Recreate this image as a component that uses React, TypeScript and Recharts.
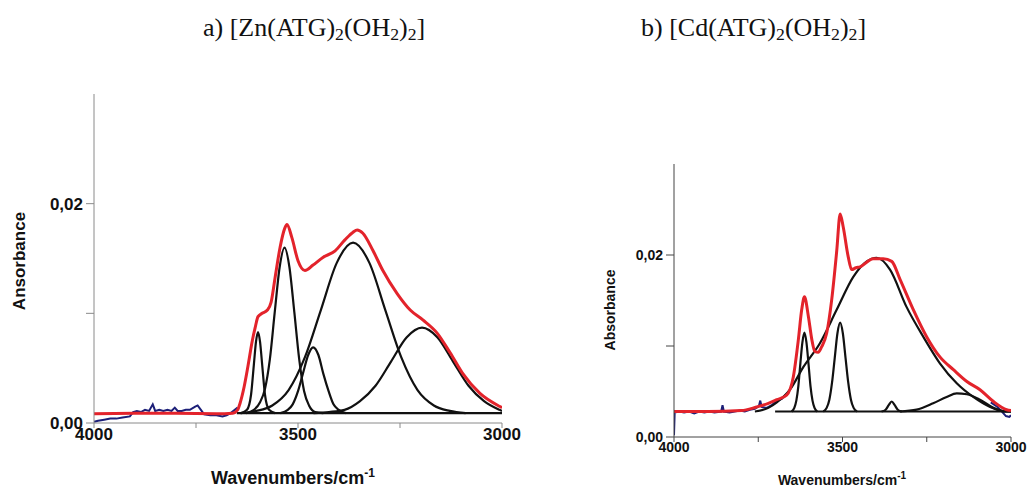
import React from 'react';
import { LineChart, Line, XAxis, YAxis } from 'recharts';

// [wavenumber, absorbance] pairs

// panel a — [Zn(ATG)2(OH2)2]
const aMeasured: [number, number][] = [
  [4000, 0.0001], [3990, 0.0002], [3975, 0.0003], [3960, 0.0004], [3945, 0.0004],
  [3930, 0.0005], [3912, 0.0006], [3904, 0.001], [3895, 0.0011], [3885, 0.001],
  [3875, 0.0012], [3865, 0.0011], [3856, 0.0017], [3850, 0.0011], [3840, 0.0012],
  [3830, 0.0011], [3820, 0.0012], [3810, 0.0011], [3802, 0.0014], [3795, 0.0011],
  [3785, 0.0011], [3775, 0.0012], [3765, 0.0012], [3752, 0.0015], [3746, 0.0016],
  [3738, 0.0012], [3730, 0.0008], [3715, 0.0007], [3700, 0.0007], [3685, 0.0006],
  [3675, 0.0007], [3665, 0.0009], [3655, 0.0012], [3648, 0.0014],
];
const aFit: [number, number][] = [
  [4000, 0.00085], [3900, 0.00088], [3800, 0.00088], [3700, 0.00085], [3660, 0.0009],
  [3648, 0.0012], [3642, 0.0018], [3632, 0.0033], [3623, 0.0051], [3612, 0.0075],
  [3605, 0.0087], [3598, 0.0097], [3588, 0.01], [3575, 0.0103], [3566, 0.011],
  [3556, 0.0133], [3544, 0.016], [3533, 0.0177], [3527, 0.0181], [3515, 0.0169],
  [3500, 0.0148], [3483, 0.0139], [3463, 0.0144], [3439, 0.0151], [3409, 0.0157],
  [3385, 0.0167], [3365, 0.0174], [3355, 0.0176], [3341, 0.0173], [3316, 0.0157],
  [3292, 0.0139], [3257, 0.0118], [3225, 0.0103], [3194, 0.0094], [3159, 0.0082],
  [3127, 0.0064], [3096, 0.0045], [3054, 0.0027], [3005, 0.0015], [3000, 0.0014],
];
const aBand1: [number, number][] = [
  [3640, 0.0009], [3625, 0.0012], [3615, 0.0026], [3608, 0.0054], [3603, 0.0074],
  [3598, 0.0083], [3593, 0.0074], [3588, 0.0054], [3581, 0.0026], [3571, 0.0012], [3556, 0.0009],
];
const aBand2: [number, number][] = [
  [3628, 0.0009], [3608, 0.0012], [3593, 0.0019], [3581, 0.0031], [3569, 0.0058],
  [3557, 0.0101], [3545, 0.0142], [3533, 0.016], [3521, 0.0142], [3509, 0.0101],
  [3497, 0.0058], [3485, 0.0029], [3473, 0.0016], [3458, 0.001], [3438, 0.0009],
];
const aBand3: [number, number][] = [
  [3543, 0.0009], [3525, 0.0012], [3513, 0.0017], [3500, 0.0029], [3488, 0.0045],
  [3475, 0.0062], [3463, 0.0069], [3450, 0.0062], [3438, 0.0045], [3425, 0.0029],
  [3413, 0.0017], [3400, 0.0012], [3383, 0.0009],
];
const aBand4: [number, number][] = [
  [3641, 0.0009], [3602, 0.0011], [3563, 0.0016], [3523, 0.003], [3483, 0.006],
  [3444, 0.0103], [3405, 0.0146], [3365, 0.01645], [3325, 0.0146], [3286, 0.0103],
  [3247, 0.006], [3207, 0.003], [3167, 0.0016], [3128, 0.0011], [3089, 0.0009],
];
const aBand5: [number, number][] = [
  [3462, 0.0009], [3424, 0.001], [3386, 0.0012], [3348, 0.002], [3310, 0.0034],
  [3272, 0.0056], [3234, 0.0078], [3196, 0.0087], [3158, 0.0078], [3120, 0.0056],
  [3082, 0.0034], [3044, 0.002], [3006, 0.0012], [3000, 0.0011],
];
const aBaseline: [number, number][] = [[3650, 0.0009], [3000, 0.0009]];

// panel b — [Cd(ATG)2(OH2)2]
const bMeasured: [number, number][] = [
  [4000, 0.0002], [3998, 0.0027], [3985, 0.0028], [3970, 0.0027], [3955, 0.0028],
  [3940, 0.0026], [3925, 0.0028], [3910, 0.0027], [3895, 0.0028], [3880, 0.0027],
  [3860, 0.0028], [3856, 0.0035], [3852, 0.0028], [3835, 0.0027], [3820, 0.0028],
  [3805, 0.0029], [3790, 0.0028], [3775, 0.003], [3760, 0.0031], [3748, 0.0034],
  [3744, 0.004], [3740, 0.0033], [3725, 0.0032], [3710, 0.0035], [3695, 0.004],
  [3680, 0.0042], [3670, 0.0046],
];
const bMeasuredEnd: [number, number][] = [
  [3060, 0.0038], [3040, 0.0033], [3025, 0.0027], [3015, 0.0023], [3005, 0.0022], [3000, 0.0024],
];
const bFit: [number, number][] = [
  [4000, 0.0028], [3900, 0.0028], [3800, 0.0029], [3755, 0.0033], [3720, 0.0037],
  [3695, 0.0041], [3666, 0.0046], [3646, 0.0066], [3631, 0.0107], [3621, 0.014],
  [3613, 0.0154], [3601, 0.0132], [3591, 0.0107], [3582, 0.0094], [3572, 0.0093],
  [3562, 0.0099], [3547, 0.0114], [3532, 0.0151], [3517, 0.0205], [3507, 0.0245],
  [3498, 0.0231], [3483, 0.0198], [3473, 0.0184], [3460, 0.0186], [3448, 0.0187],
  [3409, 0.0196], [3379, 0.0196], [3354, 0.0193], [3329, 0.0173], [3290, 0.014],
  [3250, 0.011], [3211, 0.0088], [3171, 0.0074], [3131, 0.0061], [3092, 0.0052],
  [3052, 0.0039], [3013, 0.003], [3000, 0.0029],
];
const bBand1: [number, number][] = [
  [3651, 0.0028], [3643, 0.0032], [3637, 0.004], [3631, 0.0056], [3625, 0.0081],
  [3619, 0.0104], [3613, 0.01146], [3607, 0.0104], [3601, 0.0081], [3595, 0.0056],
  [3589, 0.004], [3583, 0.0032], [3575, 0.0028],
];
const bBand2: [number, number][] = [
  [3557, 0.0028], [3547, 0.0032], [3539, 0.0041], [3531, 0.006], [3523, 0.0087],
  [3515, 0.0114], [3507, 0.01256], [3499, 0.0114], [3491, 0.0087], [3483, 0.006],
  [3475, 0.0041], [3467, 0.0032], [3457, 0.0028],
];
const bBand3: [number, number][] = [
  [3384, 0.0028], [3372, 0.003], [3363, 0.0035], [3354, 0.0039], [3345, 0.0035],
  [3336, 0.003], [3324, 0.0028],
];
const bBand4: [number, number][] = [
  [3330, 0.0028], [3280, 0.003], [3231, 0.0037], [3191, 0.0044], [3161, 0.0048],
  [3131, 0.0047], [3092, 0.0041], [3052, 0.0032], [3013, 0.0028], [3000, 0.0028],
];
const bBand5: [number, number][] = [
  [3760, 0.0028], [3720, 0.0032], [3695, 0.0038], [3656, 0.0052], [3616, 0.0077],
  [3567, 0.0103], [3517, 0.014], [3468, 0.0176], [3428, 0.0193], [3399, 0.0197],
  [3359, 0.0184], [3310, 0.0143], [3260, 0.011], [3211, 0.0081], [3161, 0.0059],
  [3112, 0.0044], [3062, 0.0033], [3013, 0.0028], [3000, 0.0028],
];
const bBaseline: [number, number][] = [[3700, 0.0028], [3000, 0.0028]];

const xTicks = [4000, 3750, 3500, 3250, 3000];
const xLabelled = [4000, 3500, 3000];
const yTicks = [0, 0.01, 0.02];
const yLabels: Record<string, string> = { '0': '0,00', '0.02': '0,02' };

const RED = '#e3232b';
const BLACK = '#111111';
const NAVY = '#1c1f78';
const SANS = '"Liberation Sans", Arial, sans-serif';
const SERIF = '"Liberation Serif", "Times New Roman", serif';

const pts = (rows: [number, number][]) => rows.map(([w, v]) => ({ w, v }));

interface PanelProps {
  left: number;
  width: number;
  margin: { top: number; right: number; bottom: number; left: number };
  measured: [number, number][][];
  bands: [number, number][][];
  fit: [number, number][];
  fontSize: number;
  axisColor: string;
}

function Panel({ left, width, margin, measured, bands, fit, fontSize, axisColor }: PanelProps) {
  const tick = { fill: '#111', fontSize, fontWeight: 700, fontFamily: SANS };
  return (
    <div style={{ position: 'absolute', left, top: 0 }}>
      <LineChart width={width} height={491} margin={margin}>
        <XAxis
          type='number'
          dataKey='w'
          domain={[3000, 4000]}
          reversed
          ticks={xTicks}
          interval={0}
          tickFormatter={(w: number) => (xLabelled.includes(w) ? String(w) : '')}
          tick={tick}
          tickSize={5}
          tickMargin={0}
          height={30}
          stroke={axisColor}
          allowDataOverflow
        />
        <YAxis
          type='number'
          dataKey='v'
          domain={[0, 0.03]}
          ticks={yTicks}
          interval={0}
          tickFormatter={(v: number) => yLabels[String(v)] ?? ''}
          tick={tick}
          tickSize={8}
          tickMargin={3}
          width={60}
          stroke={axisColor}
          allowDataOverflow
        />
        {measured.map((d, i) => (
          <Line
            key={'m' + i}
            data={pts(d)}
            dataKey='v'
            type='linear'
            stroke={NAVY}
            strokeWidth={2}
            dot={false}
            isAnimationActive={false}
          />
        ))}
        {bands.map((d, i) => (
          <Line
            key={'b' + i}
            data={pts(d)}
            dataKey='v'
            type='monotone'
            stroke={BLACK}
            strokeWidth={2.2}
            dot={false}
            isAnimationActive={false}
          />
        ))}
        <Line
          data={pts(fit)}
          dataKey='v'
          type='monotone'
          stroke={RED}
          strokeWidth={3}
          dot={false}
          isAnimationActive={false}
        />
      </LineChart>
    </div>
  );
}

const sub = (t: string) => (
  <span style={{ fontSize: '0.68em', position: 'relative', top: '0.22em' }}>{t}</span>
);

const abs = (x: number, y: number, extra: React.CSSProperties = {}): React.CSSProperties => ({
  position: 'absolute',
  left: x,
  top: y,
  transform: 'translate(-50%, -50%)',
  whiteSpace: 'nowrap',
  fontFamily: SANS,
  fontWeight: 700,
  color: '#111',
  ...extra,
});

export default function App() {
  return (
    <div
      style={{
        position: 'absolute',
        left: 0,
        top: 0,
        width: 1027,
        height: 491,
        background: '#fff',
        overflow: 'hidden',
      }}
    >
      <div style={{ position: 'absolute', left: 203, top: 15, fontFamily: SERIF, fontSize: 26, lineHeight: '26px', whiteSpace: 'nowrap', color: '#111' }}>
        a) [Zn(ATG){sub('2')}(OH{sub('2')}){sub('2')}]
      </div>
      <div style={{ position: 'absolute', left: 641, top: 15, fontFamily: SERIF, fontSize: 26, lineHeight: '26px', whiteSpace: 'nowrap', color: '#111' }}>
        b) [Cd(ATG){sub('2')}(OH{sub('2')}){sub('2')}]
      </div>

      <Panel
        left={0}
        width={540}
        margin={{ top: 94, right: 38, bottom: 38, left: 34 }}
        measured={[aMeasured]}
        bands={[aBaseline, aBand1, aBand2, aBand3, aBand4, aBand5]}
        fit={aFit}
        fontSize={17}
        axisColor='#8a8a8a'
      />
      <Panel
        left={540}
        width={487}
        margin={{ top: 164, right: 16, bottom: 24, left: 74 }}
        measured={[bMeasured, bMeasuredEnd]}
        bands={[bBaseline, bBand1, bBand2, bBand3, bBand4, bBand5]}
        fit={bFit}
        fontSize={14}
        axisColor='#444'
      />

      <div style={abs(20, 261, { fontSize: 17, transform: 'translate(-50%, -50%) rotate(-90deg)' })}>Ansorbance</div>
      <div style={abs(293, 478, { fontSize: 18 })}>
        Wavenumbers/cm<span style={{ fontSize: 12, position: 'relative', top: '-0.6em' }}>-1</span>
      </div>
      <div style={abs(610, 310, { fontSize: 14, transform: 'translate(-50%, -50%) rotate(-90deg)' })}>Absorbance</div>
      <div style={abs(842, 480, { fontSize: 14 })}>
        Wavenumbers/cm<span style={{ fontSize: 10, position: 'relative', top: '-0.6em' }}>-1</span>
      </div>
    </div>
  );
}
